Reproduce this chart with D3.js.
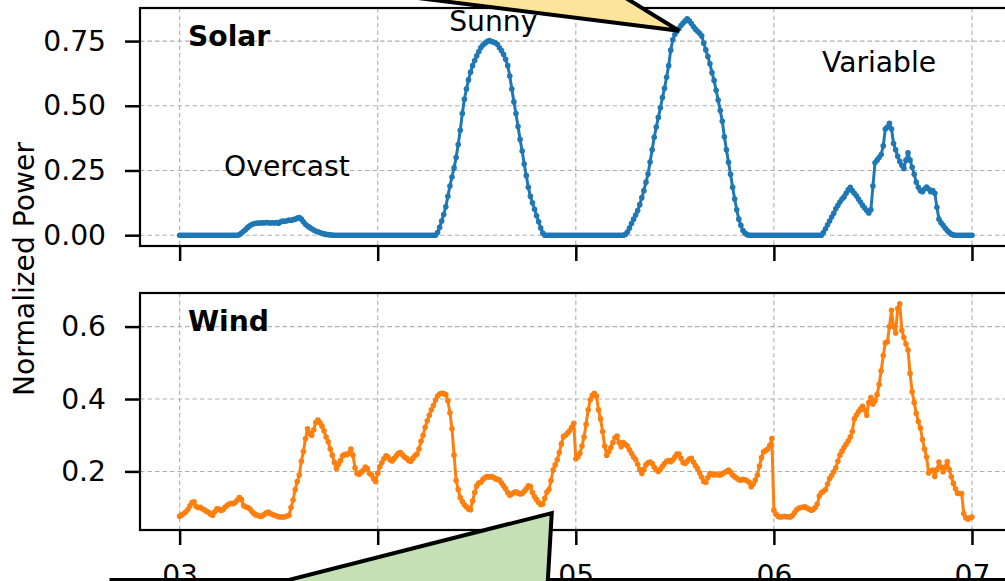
<!DOCTYPE html>
<html>
<head>
<meta charset="utf-8">
<script src="https://cdn.jsdelivr.net/npm/d3@7"></script>
<style>
  html, body { margin: 0; padding: 0; background: #ffffff; }
  svg { display: block; font-family: "DejaVu Sans", sans-serif; }
</style>
</head>
<body>
<svg id="chart" width="1005" height="581"></svg>
<script>
// ---- Data: normalized output, one reading every 15 minutes ----
const seriesStart = Date.UTC(2023, 6, 3, 0, 0); // day 03, 00:00
const stepMinutes = 15;

const solarDay03 = [
  0,0,0,0,0,0,0,0,0,0,
  0,0,0,0,0,0,0,0,0,0,
  0,0,0,0,0,0,0,0,0,
  0.002,0.008,0.015,0.022,0.03,0.036,0.041,0.044,0.046,0.047,
  0.047,0.048,0.047,0.049,0.048,0.047,0.048,0.047,0.049,0.046,
  0.052,0.055,0.054,0.056,0.058,0.057,0.06,0.062,0.066,0.068,
  0.062,0.052,0.042,0.035,0.03,0.025,0.02,0.016,0.013,0.01,
  0.007,0.005,0.003,0.002,0.001,0.0005,
  0,0,0,0,0,0,0,0,0,0,0,0,0,0,0,0,0,0,0,0,0
];
const solarDay04 = [
  0,0,0,0,0,0,0,0,0,0,
  0,0,0,0,0,0,0,0,0,0,
  0,0,0,0,0,0,0,0,0,
  0.01,0.03,0.055,0.08,0.11,0.15,0.19,0.225,0.26,0.30,
  0.35,0.405,0.47,0.525,0.565,0.60,0.63,0.655,0.675,0.693,
  0.71,0.725,0.735,0.742,0.748,0.752,0.749,0.746,0.743,0.738,
  0.724,0.713,0.698,0.68,0.655,0.615,0.565,0.515,0.47,0.42,
  0.37,0.325,0.275,0.23,0.185,0.15,0.125,0.1,0.075,0.052,
  0.028,0.008,
  0,0,0,0,0,0,0,0,0,0,0,0,0,0,0
];
const solarDay05 = [
  0,0,0,0,0,0,0,0,0,0,0,0,
  0,0,0,0,0,0,0,0,0,0,0,0,
  0.003,0.012,0.028,0.045,0.062,0.078,0.095,0.118,0.145,0.172,
  0.205,0.236,0.283,0.33,0.378,0.418,0.455,0.492,0.532,0.568,
  0.61,0.655,0.715,0.755,0.775,0.788,0.798,0.81,0.82,0.828,
  0.836,0.828,0.818,0.806,0.796,0.788,0.78,0.77,0.742,0.716,
  0.69,0.662,0.628,0.598,0.56,0.522,0.482,0.44,0.38,0.33,
  0.282,0.235,0.185,0.14,0.098,0.062,0.038,0.018,0.008,0.002,
  0,0,0,0,0,0,0,0,0,0,0,0
];
const solarDay06 = [
  0,0,0,0,0,0,0,0,0,0,0,0,
  0,0,0,0,0,0,0,0,0,0,0,0,
  0.01,0.025,0.04,0.055,0.07,0.085,0.102,0.115,0.128,0.14,
  0.148,0.162,0.175,0.185,0.172,0.162,0.152,0.14,0.128,0.115,
  0.105,0.095,0.086,0.098,0.19,0.28,0.29,0.3,0.312,0.345,
  0.41,0.418,0.432,0.41,0.354,0.33,0.305,0.285,0.27,0.258,
  0.29,0.318,0.29,0.262,0.235,0.205,0.185,0.172,0.168,0.178,
  0.186,0.178,0.168,0.172,0.162,0.108,0.062,0.048,0.038,0.028,
  0.018,0.01,0.004,0.001,
  0,0,0,0,0,0,0,0,0
];

const windDay03 = [
  0.076,0.08,0.084,0.088,0.095,0.105,0.114,0.116,0.103,0.1,
  0.101,0.097,0.094,0.09,0.087,0.082,0.079,0.088,0.097,0.096,
  0.092,0.094,0.101,0.106,0.11,0.112,0.111,0.115,0.121,0.128,
  0.122,0.106,0.102,0.1,0.097,0.09,0.084,0.08,0.078,0.076,
  0.077,0.081,0.086,0.088,0.084,0.081,0.079,0.077,0.075,0.074,
  0.074,0.075,0.077,0.079,0.1,0.121,0.15,0.172,0.19,0.228,
  0.255,0.29,0.318,0.305,0.3,0.315,0.335,0.342,0.335,0.325,
  0.312,0.295,0.282,0.262,0.245,0.225,0.208,0.22,0.23,0.243,
  0.247,0.246,0.25,0.262,0.245,0.21,0.194,0.192,0.198,0.203,
  0.212,0.208,0.195,0.19,0.18,0.172
];
const windDay04 = [
  0.195,0.213,0.224,0.235,0.243,0.24,0.232,0.229,0.236,0.243,
  0.25,0.252,0.246,0.24,0.236,0.23,0.228,0.236,0.243,0.248,
  0.262,0.283,0.3,0.322,0.34,0.355,0.37,0.382,0.397,0.408,
  0.414,0.416,0.415,0.412,0.395,0.362,0.318,0.245,0.175,0.15,
  0.128,0.117,0.108,0.102,0.096,0.094,0.118,0.142,0.16,0.168,
  0.17,0.178,0.183,0.186,0.184,0.186,0.184,0.18,0.178,0.176,
  0.168,0.16,0.152,0.142,0.134,0.138,0.142,0.144,0.14,0.138,
  0.139,0.145,0.152,0.16,0.158,0.142,0.13,0.122,0.114,0.108,
  0.11,0.126,0.143,0.15,0.175,0.204,0.218,0.232,0.252,0.276,
  0.296,0.3,0.306,0.312,0.322,0.333
];
const windDay05 = [
  0.235,0.24,0.25,0.27,0.295,0.33,0.37,0.398,0.41,0.416,
  0.408,0.37,0.345,0.31,0.27,0.245,0.255,0.266,0.28,0.293,
  0.298,0.28,0.268,0.28,0.275,0.27,0.26,0.25,0.24,0.233,
  0.22,0.205,0.194,0.205,0.218,0.224,0.226,0.222,0.212,0.204,
  0.2,0.206,0.214,0.222,0.228,0.23,0.227,0.232,0.24,0.248,
  0.248,0.236,0.224,0.222,0.228,0.234,0.236,0.226,0.216,0.208,
  0.196,0.184,0.172,0.17,0.183,0.194,0.192,0.19,0.193,0.19,
  0.19,0.193,0.197,0.2,0.204,0.198,0.19,0.185,0.181,0.177,
  0.176,0.178,0.177,0.174,0.17,0.158,0.165,0.176,0.19,0.215,
  0.238,0.254,0.258,0.262,0.272,0.291
];
const windDay06 = [
  0.093,0.082,0.076,0.074,0.075,0.076,0.075,0.075,0.074,0.078,
  0.086,0.094,0.098,0.1,0.101,0.102,0.099,0.096,0.093,0.095,
  0.1,0.11,0.132,0.141,0.145,0.15,0.165,0.18,0.189,0.199,
  0.21,0.228,0.245,0.256,0.266,0.275,0.284,0.295,0.31,0.345,
  0.356,0.365,0.372,0.38,0.37,0.355,0.39,0.404,0.386,0.395,
  0.412,0.44,0.478,0.52,0.555,0.558,0.6,0.645,0.6,0.582,
  0.65,0.663,0.59,0.57,0.552,0.535,0.47,0.42,0.39,0.36,
  0.338,0.32,0.288,0.262,0.24,0.196,0.202,0.204,0.186,0.205,
  0.226,0.212,0.199,0.212,0.227,0.205,0.185,0.167,0.152,0.14,
  0.139,0.139,0.084,0.072,0.068,0.072,0.074
];

const solarTicks = [0, 0.25, 0.5, 0.75];
const windTicks = [0.2, 0.4, 0.6];

// Text notes placed in data coordinates (day, hour, minute, value)
const solarNotes = [
  { text: "Overcast", day: 3, hour: 13, minute: 0, value: 0.23 },
  { text: "Sunny",    day: 4, hour: 14, minute: 0, value: 0.79 },
  { text: "Variable", day: 6, hour: 12, minute: 45, value: 0.63 }
];

// ---- Build series ----
const solarPower = [].concat(solarDay03, solarDay04, solarDay05, solarDay06);
const windPower = [].concat(windDay03, windDay04, windDay05, windDay06);
const timeAt = i => new Date(seriesStart + i * stepMinutes * 60000);
const dayTime = (d, h, m) => new Date(Date.UTC(2023, 6, d, h, m));

const svg = d3.select("#chart");
const plotLeft = 140, plotRight = 1011.6;
const FONT = 28.2;

const tFirst = timeAt(0), tLast = timeAt(solarPower.length - 1);
const tPad = (tLast - tFirst) * 0.05;
const x = d3.scaleUtc()
  .domain([new Date(+tFirst - tPad), new Date(+tLast + tPad)])
  .range([plotLeft, plotRight]);
const dayTicks = d3.utcDay.range(tFirst, new Date(+tLast + 1));

function paddedDomain(values) {
  const [lo, hi] = d3.extent(values);
  const p = (hi - lo) * 0.05;
  return [lo - p, hi + p];
}

const panels = [
  { name: "Solar", values: solarPower, color: "#1f77b4", top: 8,   bottom: 246, ticks: solarTicks, fmt: d3.format(".2f"), xLabels: false },
  { name: "Wind",  values: windPower,  color: "#ff7f0e", top: 293, bottom: 530, ticks: windTicks,  fmt: d3.format(".1f"), xLabels: true }
];

panels.forEach(p => {
  p.y = d3.scaleLinear().domain(paddedDomain(p.values)).range([p.bottom, p.top]);
  const g = svg.append("g");

  const clipId = "clip-" + p.name;
  svg.append("clipPath").attr("id", clipId)
    .append("rect").attr("x", plotLeft).attr("y", p.top)
    .attr("width", plotRight - plotLeft).attr("height", p.bottom - p.top);

  // grid
  const grid = g.append("g").attr("clip-path", `url(#${clipId})`)
    .attr("stroke", "#b0b0b0").attr("stroke-width", 1.1).attr("stroke-dasharray", "4.5,3");
  grid.selectAll("line.v").data(dayTicks).join("line").attr("class", "v")
    .attr("x1", d => x(d)).attr("x2", d => x(d)).attr("y1", p.top).attr("y2", p.bottom);
  grid.selectAll("line.h").data(p.ticks).join("line").attr("class", "h")
    .attr("x1", plotLeft).attr("x2", plotRight).attr("y1", d => p.y(d)).attr("y2", d => p.y(d));

  // line + markers
  const pts = p.values.map((v, i) => ({ t: timeAt(i), v }));
  const line = d3.line().x(d => x(d.t)).y(d => p.y(d.v));
  const marks = g.append("g").attr("clip-path", `url(#${clipId})`);
  marks.append("path").datum(pts).attr("d", line)
    .attr("fill", "none").attr("stroke", p.color).attr("stroke-width", 3)
    .attr("stroke-linejoin", "round");
  marks.selectAll("circle").data(pts).join("circle")
    .attr("cx", d => x(d.t)).attr("cy", d => p.y(d.v)).attr("r", 2.8)
    .attr("fill", p.color);

  // spines
  g.append("rect").attr("x", plotLeft).attr("y", p.top)
    .attr("width", plotRight - plotLeft).attr("height", p.bottom - p.top)
    .attr("fill", "none").attr("stroke", "#000").attr("stroke-width", 2.2);

  // y axis
  const ya = g.append("g").attr("transform", `translate(${plotLeft},0)`)
    .call(d3.axisLeft(p.y).tickValues(p.ticks).tickFormat(p.fmt).tickSize(15).tickPadding(19).tickSizeOuter(0));
  ya.select(".domain").remove();
  ya.selectAll(".tick line").attr("stroke", "#000").attr("stroke-width", 2.5);
  ya.selectAll(".tick text").attr("font-size", FONT).attr("font-family", "DejaVu Sans").attr("fill", "#000");

  // x axis
  const xa = g.append("g").attr("transform", `translate(0,${p.bottom})`)
    .call(d3.axisBottom(x).tickValues(dayTicks).tickFormat(p.xLabels ? d3.utcFormat("%d") : () => "")
      .tickSize(15).tickPadding(20).tickSizeOuter(0));
  xa.select(".domain").remove();
  xa.selectAll(".tick line").attr("stroke", "#000").attr("stroke-width", 2.5);
  xa.selectAll(".tick text").attr("font-size", FONT).attr("font-family", "DejaVu Sans").attr("fill", "#000");

  // panel title
  g.append("text").attr("x", plotLeft + 48).attr("y", p.top + 38)
    .attr("font-size", FONT).attr("font-weight", "bold").attr("fill", "#000").text(p.name);
});

// notes on the solar panel
const solarY = panels[0].y, windY = panels[1].y;
svg.append("g").selectAll("text").data(solarNotes).join("text")
  .attr("x", d => x(dayTime(d.day, d.hour, d.minute)))
  .attr("y", d => solarY(d.value))
  .attr("text-anchor", "middle").attr("font-size", FONT).attr("fill", "#000")
  .text(d => d.text);

// y label
svg.append("text").attr("transform", `translate(34,${(8 + 530) / 2}) rotate(-90)`)
  .attr("text-anchor", "middle").attr("font-size", FONT).attr("fill", "#000")
  .text("Normalized Power");

// box edge below the tick labels
svg.append("rect").attr("x", 111).attr("y", 579.5).attr("width", 1000).attr("height", 40)
  .attr("fill", "#fff").attr("stroke", "#000").attr("stroke-width", 3);

// wedge-shaped callout arrows
function wedge(tipX, tipY, a, b, fill) {
  const pts = [[tipX, tipY], [tipX + a[0], tipY + a[1]], [tipX + b[0], tipY + b[1]]];
  svg.append("path").attr("d", "M" + pts.map(q => q.join(",")).join("L") + "Z")
    .attr("fill", fill).attr("stroke", "#000").attr("stroke-width", 4)
    .attr("stroke-linejoin", "miter");
}
wedge(x(dayTime(5, 12, 30)), solarY(0.79), [-319, -40], [-65, -40], "#fde49b");
wedge(x(dayTime(4, 21, 5)), windY(0.085), [-342, 87], [-5, 87], "#c5e0b4");
</script>
</body>
</html>
